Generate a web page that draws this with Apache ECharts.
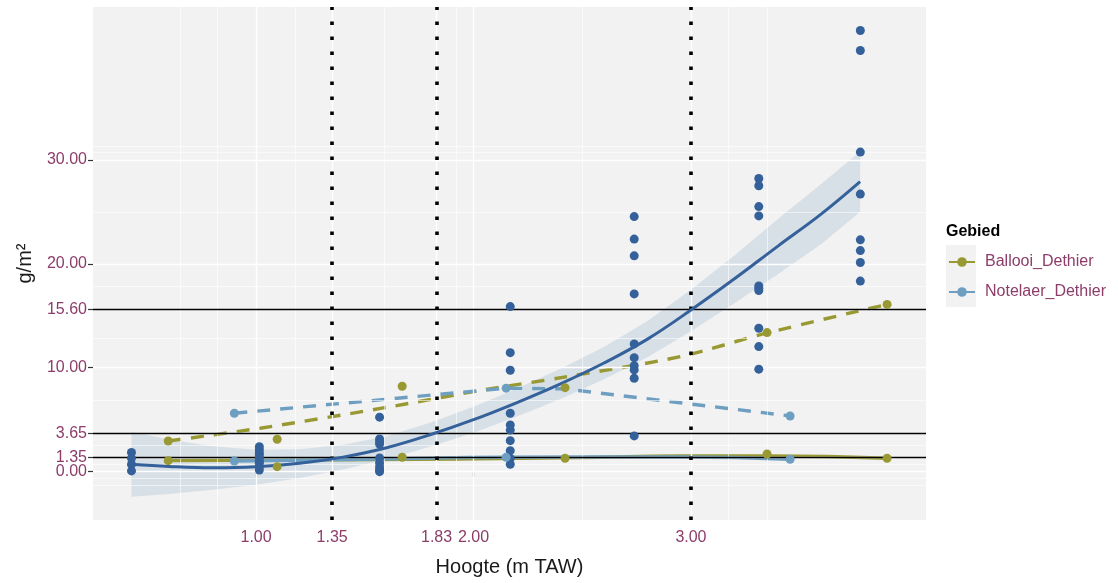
<!DOCTYPE html>
<html>
<head>
<meta charset="utf-8">
<script src="https://cdn.jsdelivr.net/npm/echarts@6/dist/echarts.min.js"></script>
<style>
  html, body { margin: 0; padding: 0; background: #ffffff; }
  #chart { width: 1118px; height: 583px; }
</style>
</head>
<body>
<div id="chart"></div>
<script>
// tick labels / grid
const xTicks = [1.00, 1.35, 1.83, 2.00, 3.00];
const xMinor = [0.65, 0.825, 1.175, 1.59, 1.915, 2.5, 3.175, 3.35];
const yTicks = [0.00, 1.35, 3.65, 10.00, 15.60, 20.00, 30.00];
const yMinor = [-1.35, -0.675, 0.675, 2.5, 6.825, 12.8, 17.8, 25, 30.675, 31.35];
const refY = [1.35, 3.65, 15.60];
const refX = [1.35, 1.83, 3.00];

// Dethier samples (dark blue), by height column
const dethierX = [0.427, 1.015, 1.568, 2.169, 2.739, 3.312, 3.779];
const dethierVals = [
  [1.85, 1.3, 0.7, 0.07],
  [2.4, 2.1, 1.8, 1.6, 1.3, 1.0, 0.8, 0.45, 0.15],
  [5.24, 3.15, 2.89, 2.66, 1.32, 0.84, 0.45, 0.16, 0.0],
  [15.88, 11.45, 9.76, 5.62, 4.5, 4.0, 2.98, 2.02, 1.28, 0.71],
  [24.54, 22.37, 20.76, 17.10, 12.29, 10.97, 10.20, 9.79, 8.99, 3.44],
  [28.2, 27.5, 25.5, 24.6, 17.87, 17.65, 17.42, 13.8, 12.03, 9.86],
  [42.44, 40.52, 30.74, 26.7, 22.3, 21.27, 20.12, 18.33]
];

// smooth fit + ribbon
const fitX = [0.427, 0.6, 0.8, 1.0, 1.2, 1.4, 1.6, 1.8, 2.0, 2.2, 2.4, 2.6, 2.8, 3.0, 3.2, 3.4, 3.6, 3.778];
const fitY = [0.71, 0.50, 0.38, 0.47, 0.80, 1.40, 2.30, 3.55, 5.00, 6.65, 8.45, 10.45, 12.75, 15.55, 18.55, 21.7, 24.8, 27.9];
const fitLo = [-2.41, -2.15, -1.75, -1.25, -0.6, 0.2, 1.2, 2.4, 3.75, 5.3, 7.0, 8.9, 11.0, 13.5, 16.2, 19.0, 21.9, 25.0];
const fitHi = [3.85, 3.1, 2.45, 2.1, 2.15, 2.6, 3.4, 4.7, 6.25, 8.0, 9.9, 12.0, 14.5, 17.5, 20.8, 24.3, 27.7, 30.8];

// Ballooi_Dethier
const ballooiX = [0.596, 1.097, 1.672, 2.421, 3.350, 3.902];
const ballooiHigh = [2.95, 3.12, 8.22, 8.08, 13.38, 16.09];
const ballooiLow = [1.06, 0.48, 1.39, 1.29, 1.70, 1.29];
const ballooiHighLineX = [0.596, 1.019, 1.585, 2.045, 2.431, 2.951, 3.351, 3.902];
const ballooiHighLine = [2.95, 4.18, 6.13, 7.86, 9.14, 11.07, 13.35, 16.09];
const ballooiLowLineX = [0.596, 1.355, 2.491, 2.951, 3.351, 3.902];
const ballooiLowLine = [1.06, 1.13, 1.35, 1.51, 1.51, 1.29];

// Notelaer_Dethier
const notelaerX = [0.900, 2.150, 3.456];
const notelaerHigh = [5.62, 8.03, 5.36];
const notelaerLow = [1.03, 1.38, 1.19];
const notelaerHighLineX = [0.900, 2.150, 2.421, 3.456];
const notelaerHighLine = [5.62, 8.03, 7.96, 5.36];
const notelaerLowLineX = [0.900, 1.568, 2.169, 2.951, 3.456];
const notelaerLowLine = [1.03, 1.22, 1.39, 1.41, 1.19];

const cDark = '#35619B';
const cOlive = '#999933';
const cLight = '#6E9FC1';
const cLabel = '#8C3D6A';
const font = 'Liberation Sans, Arial, sans-serif';

const zip = (xs, ys) => xs.map((x, i) => [x, ys[i]]);

const dethierPts = [];
dethierX.forEach((x, i) => {
  dethierVals[i].forEach(v => dethierPts.push([x, v]));
});

const gridLines = (xs, ys, width) => ({
  type: 'line',
  data: [],
  z: 1,
  silent: true,
  markLine: {
    silent: true,
    symbol: 'none',
    label: { show: false },
    lineStyle: { color: '#ffffff', width, type: 'solid' },
    data: xs.map(v => ({ xAxis: v })).concat(ys.map(v => ({ yAxis: v })))
  }
});

// y axis factory: labels that sit too close get hidden by echarts,
// so the 0.00 label lives on its own overlaid axis
const yAxisDef = (values, withName) => ({
  type: 'value',
  min: -4.65,
  max: 44.7,
  position: 'left',
  offset: 0,
  name: withName ? 'g/m²' : '',
  nameLocation: 'middle',
  nameGap: 58,
  nameRotate: 90,
  nameTextStyle: { fontFamily: font, fontSize: 20, color: '#1a1a1a' },
  axisLine: { show: false },
  splitLine: { show: false },
  axisTick: { show: true, length: 5, customValues: values, lineStyle: { color: '#333333', width: 1.2 } },
  axisLabel: {
    customValues: values,
    hideOverlap: false,
    formatter: v => v.toFixed(2),
    margin: 6,
    fontFamily: font,
    fontSize: 16,
    color: cLabel
  }
});

const chart = echarts.init(document.getElementById('chart'), null, { renderer: 'canvas' });

const option = {
  animation: false,
  backgroundColor: '#ffffff',
  title: {
    text: 'Gebied',
    left: 946,
    top: 224,
    padding: 0,
    textStyle: { fontFamily: font, fontSize: 16, fontWeight: 'bold', color: '#000000' }
  },
  legend: {
    data: ['Ballooi_Dethier', 'Notelaer_Dethier'],
    orient: 'vertical',
    left: 948,
    top: 254,
    padding: 0,
    itemWidth: 26,
    itemHeight: 12,
    itemGap: 14,
    selectedMode: false,
    textStyle: { fontFamily: font, fontSize: 16, color: cLabel, padding: [0, 0, 0, 5] }
  },
  graphic: [{
    type: 'rect',
    left: 946,
    top: 245,
    shape: { width: 30, height: 62 },
    style: { fill: '#F2F2F2' },
    z: -1
  }],
  grid: {
    left: 93,
    right: 192,
    top: 7,
    bottom: 63,
    show: true,
    backgroundColor: '#F2F2F2',
    borderWidth: 0
  },
  xAxis: {
    type: 'value',
    min: 0.25,
    max: 4.081,
    name: 'Hoogte (m TAW)',
    nameLocation: 'middle',
    nameGap: 37,
    nameTextStyle: { fontFamily: font, fontSize: 20, color: '#1a1a1a' },
    axisLine: { show: false },
    splitLine: { show: false },
    axisTick: { show: true, length: 5, customValues: xTicks, lineStyle: { color: '#333333', width: 1.2 } },
    axisLabel: {
      customValues: xTicks,
      hideOverlap: false,
      formatter: v => v.toFixed(2),
      margin: 10,
      fontFamily: font,
      fontSize: 16,
      color: cLabel
    }
  },
  yAxis: [
    yAxisDef(yTicks.filter(v => v !== 0), true),
    yAxisDef(yTicks.filter(v => v === 0), false)
  ],
  series: [
    gridLines(xMinor, yMinor, 0.6),
    gridLines(xTicks, yTicks, 1.3),
    {
      // confidence ribbon as one polygon
      type: 'custom',
      data: fitX.map((x, i) => [x, fitLo[i], fitHi[i]]),
      encode: { x: 0, y: [1, 2] },
      silent: true,
      clip: true,
      z: 2,
      renderItem: (params, api) => {
        if (params.dataIndex !== 0) return null;
        const upper = fitX.map((x, i) => api.coord([x, fitHi[i]]));
        const lower = fitX.map((x, i) => api.coord([x, fitLo[i]])).reverse();
        return {
          type: 'polygon',
          shape: { points: upper.concat(lower) },
          style: { fill: 'rgba(160,182,208,0.32)' }
        };
      }
    },
    {
      type: 'line',
      data: [],
      z: 3,
      markLine: {
        silent: true,
        symbol: 'none',
        label: { show: false },
        lineStyle: { color: '#000000', width: 1.4, type: 'solid' },
        data: refY.map(v => ({ yAxis: v }))
      }
    },
    {
      type: 'line',
      data: [],
      z: 3,
      markLine: {
        silent: true,
        symbol: 'none',
        label: { show: false },
        lineStyle: { color: '#000000', width: 3.6, type: [3.6, 11.4], cap: 'butt' },
        data: refX.map(v => ({ xAxis: v }))
      }
    },
    {
      name: 'Ballooi_Dethier',
      type: 'line',
      data: zip(ballooiLowLineX, ballooiLowLine),
      smooth: true,
      symbol: 'circle',
      symbolSize: 8,
      showSymbol: false,
      color: cOlive,
      lineStyle: { color: cOlive, width: 3.4 },
      z: 4
    },
    {
      name: 'Notelaer_Dethier',
      type: 'line',
      data: zip(notelaerLowLineX, notelaerLowLine),
      smooth: true,
      symbol: 'circle',
      symbolSize: 8,
      showSymbol: false,
      color: cLight,
      lineStyle: { color: cLight, width: 3.4 },
      z: 4
    },
    {
      name: 'Ballooi_Dethier',
      type: 'line',
      data: zip(ballooiHighLineX, ballooiHighLine),
      smooth: 0.3,
      showSymbol: false,
      color: cOlive,
      lineStyle: { color: cOlive, width: 3.4, type: [13, 10] },
      z: 4
    },
    {
      name: 'Notelaer_Dethier',
      type: 'line',
      data: zip(notelaerHighLineX, notelaerHighLine),
      showSymbol: false,
      color: cLight,
      lineStyle: { color: cLight, width: 3.4, type: [13, 10] },
      z: 4
    },
    {
      type: 'line',
      data: zip(fitX, fitY),
      smooth: 0.4,
      showSymbol: false,
      lineStyle: { color: cDark, width: 3 },
      z: 5
    },
    {
      type: 'scatter',
      data: dethierPts,
      symbolSize: 9,
      itemStyle: { color: cDark, opacity: 1 },
      z: 6
    },
    {
      name: 'Ballooi_Dethier',
      type: 'scatter',
      data: zip(ballooiX, ballooiHigh).concat(zip(ballooiX, ballooiLow)),
      symbolSize: 9,
      itemStyle: { color: cOlive, opacity: 1 },
      z: 6
    },
    {
      name: 'Notelaer_Dethier',
      type: 'scatter',
      data: zip(notelaerX, notelaerHigh).concat(zip(notelaerX, notelaerLow)),
      symbolSize: 9,
      itemStyle: { color: cLight, opacity: 1 },
      z: 6
    }
  ]
};

chart.setOption(option);
</script>
</body>
</html>
